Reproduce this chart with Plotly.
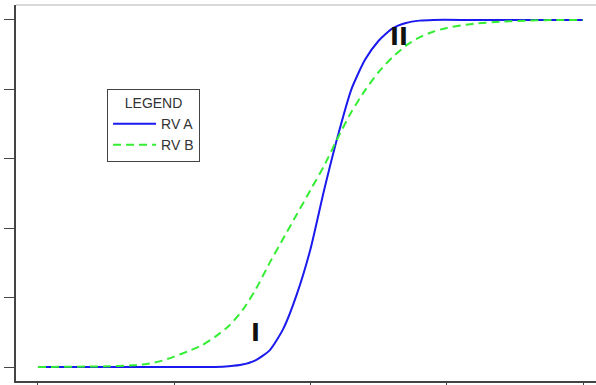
import plotly.graph_objects as go

# RV A (steep CDF)
x_a = [0.0, 1.0, 1.3, 1.4, 1.5, 1.6, 1.7, 1.8, 1.9, 2.0, 2.1, 2.2, 2.3, 2.4, 2.5, 2.6, 2.7, 2.8, 2.9, 3.2, 4.0]
y_a = [0.0, 0.0, 0.0, 0.002, 0.007, 0.02, 0.048, 0.11, 0.21, 0.34, 0.51, 0.665, 0.80, 0.885, 0.94, 0.975, 0.991, 0.998, 1.0, 1.0, 1.0]

# RV B (shallow CDF)
x_b = [0.0, 0.5, 0.7, 0.8, 0.9, 1.0, 1.1, 1.2, 1.3, 1.4, 1.5, 1.6, 1.7, 1.8, 1.9, 2.0, 2.1, 2.2, 2.3, 2.4, 2.5, 2.6, 2.7, 2.8, 2.9, 3.0, 3.2, 3.4, 3.6, 3.8, 4.0]
y_b = [0.0, 0.002, 0.005, 0.009, 0.017, 0.03, 0.045, 0.062, 0.087, 0.118, 0.163, 0.225, 0.30, 0.37, 0.44, 0.51, 0.58, 0.66, 0.735, 0.797, 0.85, 0.892, 0.926, 0.95, 0.966, 0.977, 0.989, 0.995, 0.998, 1.0, 1.0]

x_ticks = [0, 1, 2, 3, 4]
y_ticks = [0, 0.2, 0.4, 0.6, 0.8, 1.0]

labels = ["I", "II"]
label_x = [1.6, 2.65]
label_y = [0.098, 0.952]

fig = go.Figure()
fig.add_trace(go.Scatter(x=x_a, y=y_a, mode="lines", name="RV A",
                         line=dict(color="#1a1aee", width=2, shape="spline", smoothing=0.6)))
fig.add_trace(go.Scatter(x=x_b, y=y_b, mode="lines", name="RV B",
                         line=dict(color="#33ee33", width=2, dash="8px,5px", shape="spline", smoothing=0.6)))

for t, lx, ly in zip(labels, label_x, label_y):
    fig.add_annotation(x=lx, y=ly, text=t, showarrow=False,
                       font=dict(family="DejaVu Sans", size=24, color="#111111", weight="bold"))

fig.add_shape(type="line", xref="paper", yref="paper", x0=0, x1=1, y0=1, y1=1,
              line=dict(color="#cccccc", width=1.5))

fig.update_layout(
    width=596, height=385,
    margin=dict(l=16, r=0, t=5, b=4),
    paper_bgcolor="white", plot_bgcolor="white",
    font=dict(family="Liberation Sans, Arial", size=14, color="#333333"),
    showlegend=True,
    legend=dict(x=0.157, y=0.777, xanchor="left", yanchor="top",
                bordercolor="#444444", borderwidth=1, bgcolor="white",
                itemwidth=43,
                title=dict(text="LEGEND", font=dict(size=14), side="top center"),
                font=dict(size=14)),
    xaxis=dict(range=[-0.161, 4.095], tickvals=x_ticks, showticklabels=False,
               ticks="outside", ticklen=5, tickcolor="#444444", tickwidth=1,
               showline=True, linecolor="#444444", linewidth=1.5,
               showgrid=False, zeroline=False),
    yaxis=dict(range=[-0.0403, 1.043], tickvals=y_ticks, showticklabels=False,
               ticks="outside", ticklen=10, tickcolor="#444444", tickwidth=1,
               showline=True, linecolor="#444444", linewidth=1.5,
               showgrid=False, zeroline=False),
)

fig.write_html("out.html", config={"displayModeBar": False},
               post_script="document.body.style.margin='0';")
